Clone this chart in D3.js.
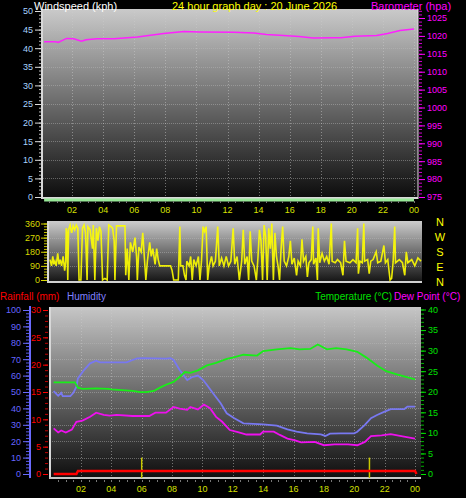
<!DOCTYPE html>
<html lang="en">
<head>
<meta charset="utf-8">
<script src="https://d3js.org/d3.v7.min.js"></script>
<style>
  body { margin: 0; background: #000; }
  svg { display: block; background: #000; font-family: "Liberation Sans", Arial, sans-serif; }
  .domain { display: none; }
</style>
</head>
<body>
<script>
// ---- data ----
var hourLabels = ["02","04","06","08","10","12","14","16","18","20","22","00"];
var hourTicks = [2,4,6,8,10,12,14,16,18,20,22,24];

var windHours = [0.2, 24];
var windSpeed = [0, 0];

var baroHours = [0.2,0.9,1.1,1.65,2.1,2.6,2.9,3.6,4.7,6.2,7.9,9.2,10.2,12.4,13.7,14.5,15.6,16.6,17.5,18.8,19.3,20.2,21.6,22.3,23.1,24];
var baroValues = [1018.4,1018.4,1018.2,1019.3,1019.2,1018.5,1018.9,1019.2,1019.2,1019.7,1020.7,1021.2,1021.1,1021.0,1020.8,1020.4,1020.1,1019.8,1019.4,1019.5,1019.5,1019.9,1020.1,1020.7,1021.5,1021.9];

var windDir = [
  [0.00,130],[0.10,90],[0.18,150],[0.25,100],[0.32,120],[0.40,90],[0.50,170],[0.58,100],[0.66,130],[0.75,90],
  [0.85,150],[0.95,60],[1.02,120],[1.05,330],[1.10,300],[1.15,0],[1.20,320],[1.30,350],[1.40,300],[1.50,345],
  [1.60,320],[1.70,350],[1.80,330],[1.88,0],[2.00,0],[2.10,330],[2.20,350],[2.30,300],[2.40,0],[2.45,340],
  [2.60,320],[2.75,200],[2.80,350],[2.90,0],[3.00,330],[3.10,250],[3.20,340],[3.30,310],[3.40,0],[3.55,10],
  [3.70,0],[3.80,350],[3.95,340],[4.05,330],[4.15,250],[4.20,0],[4.30,345],[4.50,345],[4.70,345],[4.85,345],
  [4.90,30],[5.00,200],[5.10,0],[5.20,240],[5.35,180],[5.50,270],[5.60,150],[5.65,0],[5.75,210],[5.90,180],
  [6.00,300],[6.10,150],[6.20,0],[6.30,120],[6.45,240],[6.55,150],[6.65,200],[6.80,100],[6.90,200],[7.00,130],
  [7.10,90],[7.20,90],[7.50,90],[7.80,90],[7.90,60],[8.00,0],[8.30,0],[8.40,340],[8.45,90],[8.60,90],
  [8.70,30],[8.80,0],[8.85,120],[9.00,90],[9.10,150],[9.20,0],[9.30,130],[9.45,90],[9.60,150],[9.70,0],
  [9.80,120],[9.90,340],[10.00,310],[10.10,340],[10.20,0],[10.30,90],[10.45,150],[10.55,90],[10.70,120],[10.85,340],
  [10.95,90],[11.10,140],[11.25,90],[11.40,150],[11.55,90],[11.70,120],[11.85,330],[11.95,100],[12.10,150],[12.25,0],
  [12.40,120],[12.50,320],[12.60,100],[12.75,150],[12.85,0],[12.95,310],[13.05,120],[13.20,90],[13.35,0],[13.45,140],
  [13.55,320],[13.65,250],[13.75,0],[13.85,350],[13.95,280],[14.05,0],[14.15,330],[14.25,200],[14.35,360],[14.45,0],
  [14.55,300],[14.65,150],[14.75,90],[14.85,0],[14.95,200],[15.05,340],[15.15,120],[15.30,90],[15.45,150],[15.55,250],
  [15.65,100],[15.80,140],[15.95,30],[16.05,120],[16.20,90],[16.30,260],[16.40,120],[16.55,150],[16.65,20],[16.75,110],
  [16.90,130],[17.00,340],[17.05,100],[17.20,140],[17.30,0],[17.35,330],[17.45,110],[17.60,170],[17.75,120],[17.90,150],
  [18.05,100],[18.20,360],[18.25,120],[18.45,110],[18.60,130],[18.80,110],[18.95,30],[19.05,250],[19.15,120],[19.40,110],
  [19.60,130],[19.80,110],[19.90,330],[19.95,40],[20.05,120],[20.20,110],[20.30,360],[20.35,120],[20.55,130],[20.65,40],
  [20.75,120],[20.90,130],[21.10,180],[21.20,110],[21.40,120],[21.60,220],[21.70,110],[21.85,130],[22.00,0],[22.10,10],
  [22.20,120],[22.30,340],[22.35,110],[22.60,130],[22.80,110],[22.95,30],[23.05,180],[23.15,110],[23.40,130],[23.60,90],
  [23.80,140],[24.00,120]
];

var tempData = [[0.2,22.3],[1.6,22.3],[1.8,21.0],[2.1,20.7],[3.0,20.8],[3.8,20.7],[4.0,20.6],[5.4,20.2],[5.9,19.9],[6.3,19.9],
  [6.8,20.2],[7.2,21.0],[7.6,21.7],[8.1,22.4],[8.5,23.6],[8.85,24.8],[9.2,24.6],[9.7,25.2],[10.3,26.4],[10.9,27.0],
  [11.6,28.0],[12.0,28.3],[12.7,29.0],[13.6,28.8],[14.0,29.9],[14.9,30.3],[15.8,30.6],[16.4,30.3],[17.1,30.4],[17.6,31.5],
  [18.2,30.3],[18.8,30.6],[19.5,30.3],[20.2,29.7],[20.8,28.3],[21.5,26.4],[22.1,25.0],[22.8,24.2],[23.4,23.6],[24.0,23.0]];

var humData = [[0.2,50.6],[0.5,47.7],[0.7,49.5],[0.8,47.5],[1.3,47.5],[1.5,49.5],[1.7,53.2],[1.8,58.3],[2.2,63.4],[2.6,67.5],
  [3.0,69.1],[3.25,68.1],[5.0,68.1],[5.4,69.5],[5.7,70.5],[6.1,70.6],[7.6,70.3],[7.9,70.6],[8.1,69.5],[8.5,63.4],
  [9.0,57.3],[9.3,59.0],[9.7,60.0],[10.05,57.3],[10.3,54.3],[10.7,49.2],[11.2,43.1],[11.6,37.0],[12.1,34.0],[12.7,30.9],
  [14.0,30.3],[14.9,29.5],[15.6,27.2],[16.2,25.8],[16.9,24.8],[17.8,24.2],[18.1,23.2],[18.4,24.6],[19.1,24.8],[20.0,24.8],
  [20.2,25.8],[20.7,29.9],[21.1,34.0],[21.5,36.0],[22.0,38.0],[22.4,39.6],[23.3,39.6],[23.5,41.1],[24.0,41.1]];

var dewData = [[0.2,11.1],[0.5,10.1],[0.7,10.6],[1.0,10.1],[1.4,10.8],[1.7,12.7],[2.1,13.0],[2.6,13.9],[3.0,14.9],[3.5,14.4],
  [3.9,14.2],[4.35,14.4],[5.4,14.1],[6.5,14.1],[6.9,14.9],[7.6,14.9],[8.1,16.3],[8.5,15.9],[9.0,15.6],[9.2,16.3],
  [9.7,15.7],[10.1,16.9],[10.5,16.0],[10.9,13.9],[11.3,12.7],[11.8,10.7],[12.4,10.1],[12.9,9.6],[13.8,9.6],[14.0,10.3],
  [14.7,10.3],[15.1,9.5],[15.6,8.6],[16.1,8.2],[16.5,7.7],[17.4,7.8],[18.0,7.0],[18.7,7.2],[19.6,7.2],[20.2,7.0],
  [20.7,7.8],[21.1,9.2],[21.8,9.4],[22.4,9.7],[23.1,9.2],[24.0,8.6]];

var rainData = [[0.2,0],[1.7,0],[1.8,0.55],[24.0,0.55],[24.1,0]];
var rainRate = [[6.0,3],[21.0,3]];

// ---- chart ----
var W = 466, H = 498;
var svg = d3.select("body").append("svg").attr("width", W).attr("height", H);
var defs = svg.append("defs");

function grad(id, top, bottom) {
  var g = defs.append("linearGradient").attr("id", id).attr("x1", 0).attr("y1", 0).attr("x2", 0).attr("y2", 1);
  g.append("stop").attr("offset", "0%").attr("stop-color", top);
  g.append("stop").attr("offset", "100%").attr("stop-color", bottom);
}
grad("bgTop", "#cacaca", "#0c0c0c");
grad("bgMid", "#cccccc", "#141414");
grad("bgBot", "#c6c6c6", "#0e0e0e");

function styleAxis(g, color, textColor) {
  g.selectAll(".tick line").attr("stroke", color);
  g.selectAll(".tick text").attr("fill", textColor || color).attr("font-size", 9);
}

function panelFrame(x0, y0, x1, y1, fillId) {
  svg.append("rect").attr("x", x0).attr("y", y0).attr("width", x1 - x0).attr("height", y1 - y0)
    .attr("fill", "url(#" + fillId + ")");
}

function hGrid(scale, ticks, x0, x1) {
  svg.append("g").selectAll("line").data(ticks).enter().append("line")
    .attr("x1", x0).attr("x2", x1)
    .attr("y1", function(d) { return Math.round(scale(d)) + 0.5; })
    .attr("y2", function(d) { return Math.round(scale(d)) + 0.5; })
    .attr("stroke", "#bbbbbb").attr("stroke-opacity", 0.45).attr("stroke-dasharray", "1,1");
}

function vGrid(scale, y0, y1) {
  svg.append("g").selectAll("line").data(hourTicks).enter().append("line")
    .attr("y1", y0).attr("y2", y1)
    .attr("x1", function(d) { return Math.round(scale(d)) + 0.5; })
    .attr("x2", function(d) { return Math.round(scale(d)) + 0.5; })
    .attr("stroke", "#cccccc").attr("stroke-opacity", 0.5).attr("stroke-dasharray", "1,2");
}

function xAxis(scale, y) {
  var minor = d3.range(0.5, 24.01, 0.5);
  svg.append("g").selectAll("line").data(minor).enter().append("line")
    .attr("x1", function(d) { return Math.round(scale(d)) + 0.5; })
    .attr("x2", function(d) { return Math.round(scale(d)) + 0.5; })
    .attr("y1", y).attr("y2", y + 2).attr("stroke", "#777");
  svg.append("g").selectAll("text").data(hourTicks).enter().append("text")
    .attr("x", function(d) { return scale(d); })
    .attr("y", y + 12)
    .attr("text-anchor", "middle")
    .attr("font-size", 9)
    .attr("fill", "#d6e000")
    .text(function(d, i) { return hourLabels[i]; });
}

// ================= top panel: windspeed / barometer =================
var xTop = d3.scaleLinear().domain([0, 24]).range([41, 414]);
var yWind = d3.scaleLinear().domain([0, 50]).range([197, 11]);
var yBaro = d3.scaleLinear().domain([975, 1025]).range([197, 18]);

panelFrame(42, 9, 418, 198, "bgTop");
hGrid(yWind, d3.range(5, 50, 5), 43, 418);
vGrid(xTop, 9, 197);

svg.append("g").attr("transform", "translate(42,0)")
  .call(d3.axisLeft(yWind).tickValues(d3.range(0, 51, 1)).tickSize(3).tickFormat(""))
  .call(styleAxis, "#bbbbbb");
svg.append("g").attr("transform", "translate(42,0)")
  .call(d3.axisLeft(yWind).tickValues(d3.range(0, 51, 5)).tickSize(7).tickPadding(2))
  .call(styleAxis, "#dddddd", "#a8d4ff");

svg.append("g").attr("transform", "translate(419,0)")
  .call(d3.axisRight(yBaro).tickValues(d3.range(975, 1028, 1)).tickSize(3).tickFormat(""))
  .call(styleAxis, "#d000d0");
svg.append("g").attr("transform", "translate(419,0)")
  .call(d3.axisRight(yBaro).tickValues(d3.range(975, 1026, 5)).tickSize(6).tickPadding(2).tickFormat(d3.format("d")))
  .call(styleAxis, "#ff00ff");

svg.append("line").attr("x1", 42).attr("x2", 42).attr("y1", 9).attr("y2", 199).attr("stroke", "#d8d8d8").attr("stroke-width", 2);
svg.append("line").attr("x1", 418).attr("x2", 418).attr("y1", 9).attr("y2", 199).attr("stroke", "#e8d8e8").attr("stroke-width", 1);
svg.append("line").attr("x1", 41).attr("x2", 418).attr("y1", 198).attr("y2", 198).attr("stroke", "#d8d8d8").attr("stroke-width", 2);

svg.append("path")
  .datum(windHours.map(function(h, i) { return [h, windSpeed[i]]; }))
  .attr("fill", "none").attr("stroke", "#98e898").attr("stroke-width", 3)
  .attr("transform", "translate(0,3)")
  .attr("d", d3.line().x(function(d) { return xTop(d[0]); }).y(function(d) { return yWind(d[1]); }));

svg.append("path")
  .datum(baroHours.map(function(h, i) { return [h, baroValues[i]]; }))
  .attr("fill", "none").attr("stroke", "#ff20ff").attr("stroke-width", 1.5)
  .attr("d", d3.line().x(function(d) { return xTop(d[0]); }).y(function(d) { return yBaro(d[1]); }));

xAxis(xTop, 201);

svg.append("text").attr("x", 34).attr("y", 10).attr("font-size", 11).attr("fill", "#ffffff").text("Windspeed (kph)");
svg.append("text").attr("x", 172).attr("y", 10).attr("font-size", 11).attr("fill", "#ffff00").text("24 hour graph day : 20 June 2026");
svg.append("text").attr("x", 371).attr("y", 10).attr("font-size", 11).attr("fill", "#ff00ff").text("Barometer (hpa)");

// ================= middle panel: wind direction =================
var xMid = d3.scaleLinear().domain([0, 24]).range([50, 421]);
var yDir = d3.scaleLinear().domain([0, 360]).range([280, 223.5]);

panelFrame(48, 221, 422, 282, "bgMid");
hGrid(yDir, [90, 180, 270], 48, 422);

svg.append("g").attr("transform", "translate(47,0)")
  .call(d3.axisLeft(yDir).tickValues(d3.range(0, 361, 18)).tickSize(3).tickFormat(""))
  .call(styleAxis, "#c8c800");
svg.append("g").attr("transform", "translate(47,0)")
  .call(d3.axisLeft(yDir).tickValues([0, 90, 180, 270, 360]).tickSize(6).tickPadding(1))
  .call(styleAxis, "#d8d800");

svg.append("line").attr("x1", 48).attr("x2", 48).attr("y1", 221).attr("y2", 283).attr("stroke", "#d8d8d8").attr("stroke-width", 2);
svg.append("line").attr("x1", 47).attr("x2", 422).attr("y1", 282).attr("y2", 282).attr("stroke", "#d0d0d0").attr("stroke-width", 2);

svg.append("path").datum(windDir)
  .attr("fill", "none").attr("stroke", "#ffff00").attr("stroke-width", 1.6).attr("stroke-opacity", 0.9)
  .attr("d", d3.line().x(function(d) { return xMid(d[0]); }).y(function(d) { return yDir(d[1]); }));

svg.append("g").selectAll("text").data(["N", "W", "S", "E", "N"]).enter().append("text")
  .attr("x", 440).attr("text-anchor", "middle")
  .attr("y", function(d, i) { return 226 + i * 15; })
  .attr("font-size", 11).attr("fill", "#ffff00")
  .text(function(d) { return d; });

// ================= bottom panel: rain / humidity / temp / dew =================
var xBot = d3.scaleLinear().domain([0, 24]).range([50.6, 415]);
var yHum = d3.scaleLinear().domain([0, 100]).range([474, 310]);
var yRain = d3.scaleLinear().domain([0, 30]).range([474, 310]);
var yTemp = d3.scaleLinear().domain([0, 40]).range([474, 309.5]);

panelFrame(49, 307, 421, 478, "bgBot");
hGrid(yHum, d3.range(10, 100, 10), 50, 421);
vGrid(xBot, 307, 477);

// humidity axis
svg.append("line").attr("x1", 30).attr("x2", 30).attr("y1", 306).attr("y2", 478).attr("stroke", "#6a6aff").attr("stroke-width", 2);
svg.append("g").attr("transform", "translate(29,0)")
  .call(d3.axisLeft(yHum).tickValues(d3.range(0, 101, 2)).tickSize(3).tickFormat(""))
  .call(styleAxis, "#5a5ae8");
svg.append("g").attr("transform", "translate(29,0)")
  .call(d3.axisLeft(yHum).tickValues(d3.range(0, 101, 10)).tickSize(6).tickPadding(2))
  .call(styleAxis, "#6a6aff", "#6666ff");

// rain axis
svg.append("g").attr("transform", "translate(48,0)")
  .call(d3.axisLeft(yRain).tickValues(d3.range(0, 31, 1)).tickSize(3).tickFormat(""))
  .call(styleAxis, "#c00000");
svg.append("g").attr("transform", "translate(48,0)")
  .call(d3.axisLeft(yRain).tickValues(d3.range(0, 31, 5)).tickSize(5).tickPadding(2))
  .call(styleAxis, "#ff0000");

// temperature axis
svg.append("g").attr("transform", "translate(421,0)")
  .call(d3.axisRight(yTemp).tickValues(d3.range(0, 41, 1)).tickSize(3).tickFormat(""))
  .call(styleAxis, "#00b000");
svg.append("g").attr("transform", "translate(421,0)")
  .call(d3.axisRight(yTemp).tickValues(d3.range(0, 41, 5)).tickSize(5).tickPadding(2))
  .call(styleAxis, "#00e000");

svg.append("line").attr("x1", 50).attr("x2", 50).attr("y1", 307).attr("y2", 479).attr("stroke", "#d8d8d8").attr("stroke-width", 2);
svg.append("line").attr("x1", 49).attr("x2", 421).attr("y1", 478).attr("y2", 478).attr("stroke", "#c8c8c8").attr("stroke-width", 2);

svg.append("g").selectAll("line").data(rainRate).enter().append("line")
  .attr("x1", function(d) { return xBot(d[0]); })
  .attr("x2", function(d) { return xBot(d[0]); })
  .attr("y1", yRain(0) + 4)
  .attr("y2", function(d) { return yRain(d[1]); })
  .attr("stroke", "#c8c800").attr("stroke-width", 1.5);

function series(data, scale, color, width) {
  svg.append("path").datum(data)
    .attr("fill", "none").attr("stroke", color).attr("stroke-width", width)
    .attr("d", d3.line().x(function(d) { return xBot(d[0]); }).y(function(d) { return scale(d[1]); }));
}
series(humData, yHum, "#7878f0", 1.8);
series(tempData, yTemp, "#18ee18", 1.8);
series(dewData, yTemp, "#ee10ee", 1.8);
series(rainData, yRain, "#ff0000", 2.5);

xAxis(xBot, 480);

svg.append("text").attr("x", 0).attr("y", 300).attr("font-size", 10).attr("fill", "#ff0000").text("Rainfall (mm)");
svg.append("text").attr("x", 67).attr("y", 300).attr("font-size", 10).attr("fill", "#8080ff").text("Humidity");
svg.append("text").attr("x", 392).attr("y", 300).attr("font-size", 10).attr("fill", "#00e000").attr("text-anchor", "end").text("Temperature (°C)");
svg.append("text").attr("x", 394).attr("y", 300).attr("font-size", 10).attr("fill", "#ff00ff").text("Dew Point (°C)");
</script>
</body>
</html>
